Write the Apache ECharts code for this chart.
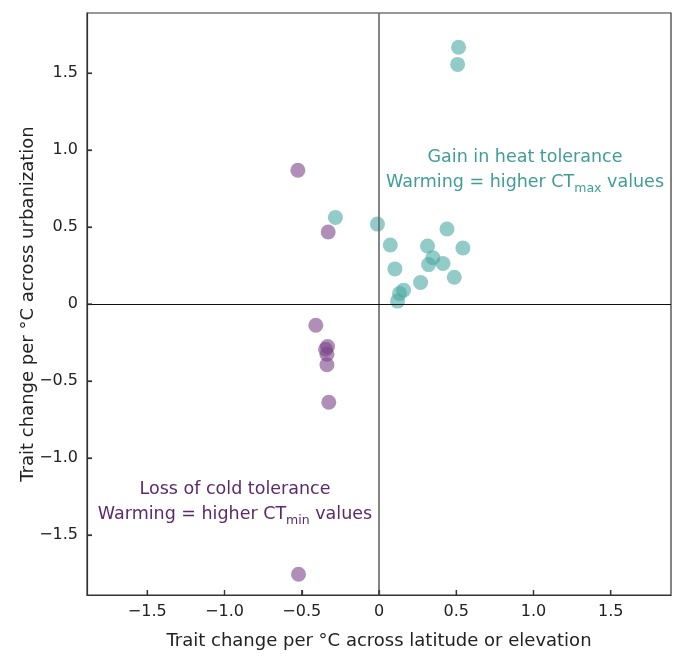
<!DOCTYPE html>
<html>
<head>
<meta charset="utf-8">
<script src="https://cdn.jsdelivr.net/npm/echarts@6/dist/echarts.min.js"></script>
<style>html,body{margin:0;padding:0;background:#fff;}#c{width:674px;height:658px;}</style>
</head>
<body>
<div id="c"></div>
<script>
// Heat tolerance (CTmax) points: [x: trait change per °C across latitude/elevation, y: across urbanization]
var ctmaxX = [0.515, 0.509, -0.01, 0.073, 0.103, 0.44, 0.543, 0.314, 0.349, 0.321, 0.414, 0.487, 0.269, 0.159, 0.133, 0.12, -0.282];
var ctmaxY = [1.668, 1.556, 0.519, 0.383, 0.228, 0.487, 0.364, 0.377, 0.30, 0.256, 0.263, 0.174, 0.14, 0.09, 0.069, 0.019, 0.562];
// Cold tolerance (CTmin) points
var ctminX = [-0.525, -0.329, -0.409, -0.333, -0.346, -0.337, -0.337, -0.325, -0.521];
var ctminY = [0.869, 0.468, -0.138, -0.276, -0.294, -0.326, -0.395, -0.638, -1.755];
var xTicks = [-1.5, -1, -0.5, 0, 0.5, 1, 1.5];
var yTicks = [-1.5, -1, -0.5, 0, 0.5, 1, 1.5];
var xName = 'Trait change per °C across latitude or elevation';
var yName = 'Trait change per °C across urbanization';
var AX_MIN = -1.89, AX_MAX = 1.89;

function zip(a, b) { return a.map(function (v, i) { return [v, b[i]]; }); }
function fmt(v) {
  if (Math.abs(v) < 1e-9) return '0';
  var s = Math.abs(v).toFixed(1);
  return (v < 0 ? '\u2212' : '') + s;
}
var FONT = 'DejaVu Sans';
var TEAL_T = '#3e9e97', PURP_T = '#5b2a6d';
function note(cx, ty, l1, l2a, sub, l2b, col) {
  return {
    type: 'text', x: cx, y: ty, z: 10,
    style: {
      x: 0, y: 0, align: 'center', verticalAlign: 'top',
      text: '{a|' + l1 + '}\n{a|' + l2a + '}{s|' + sub + '}{a|' + l2b + '}',
      rich: {
        a: { fontFamily: FONT, fontSize: 17.5, fill: col, lineHeight: 25, verticalAlign: 'middle' },
        s: { fontFamily: FONT, fontSize: 12.5, fill: col, lineHeight: 25, verticalAlign: 'bottom' }
      }
    }
  };
}
var chart = echarts.init(document.getElementById('c'));
chart.setOption({
  animation: false,
  grid: { left: 87, right: 3, top: 13, bottom: 63, show: true, borderColor: '#333', borderWidth: 1.2, backgroundColor: 'transparent' },
  xAxis: {
    type: 'value', min: AX_MIN, max: AX_MAX,
    name: xName, nameLocation: 'middle', nameGap: 37, nameMoveOverlap: false,
    nameTextStyle: { fontFamily: FONT, fontSize: 18, color: '#222' },
    axisLine: { show: true, onZero: false, lineStyle: { color: '#333', width: 1.2 } },
    splitLine: { show: false },
    axisTick: { show: true, inside: true, length: 5, customValues: xTicks, lineStyle: { color: '#333', width: 1.2 } },
    axisLabel: { customValues: xTicks, formatter: fmt, fontFamily: FONT, fontSize: 16, color: '#222', margin: 9 }
  },
  yAxis: {
    type: 'value', min: AX_MIN, max: AX_MAX,
    name: yName, nameLocation: 'middle', nameGap: 50, nameMoveOverlap: false,
    nameTextStyle: { fontFamily: FONT, fontSize: 18, color: '#222' },
    axisLine: { show: true, onZero: false, lineStyle: { color: '#333', width: 1.2 } },
    splitLine: { show: false },
    axisTick: { show: true, inside: true, length: 5, customValues: yTicks, lineStyle: { color: '#333', width: 1.2 } },
    axisLabel: { customValues: yTicks, formatter: fmt, fontFamily: FONT, fontSize: 16, color: '#222', margin: 9 }
  },
  series: [
    {
      type: 'scatter', data: zip(ctmaxX, ctmaxY), symbolSize: 15,
      itemStyle: { color: '#4aa9a1', opacity: 0.6 },
      markLine: {
        silent: true, symbol: 'none', label: { show: false },
        data: [
          { xAxis: 0, lineStyle: { color: '#666', width: 1.6, type: 'solid' } },
          { yAxis: 0, lineStyle: { color: '#111', width: 1.2, type: 'solid' } }
        ]
      },
      z: 3
    },
    {
      type: 'scatter', data: zip(ctminX, ctminY), symbolSize: 15,
      itemStyle: { color: '#7a4589', opacity: 0.6 },
      z: 3
    }
  ]
});
// tick marks placed through the chart's own scales
var bottomPx = chart.convertToPixel({ yAxisIndex: 0 }, AX_MIN);
var leftPx = chart.convertToPixel({ xAxisIndex: 0 }, AX_MIN);
var graphics = [
  note(525, 145, 'Gain in heat tolerance', 'Warming = higher CT', 'max', ' values', TEAL_T),
  note(235, 477, 'Loss of cold tolerance', 'Warming = higher CT', 'min', ' values', PURP_T)
];
xTicks.forEach(function (v) {
  var p = chart.convertToPixel({ xAxisIndex: 0 }, v);
  graphics.push({ type: 'line', silent: true, z: 5, shape: { x1: p, y1: bottomPx, x2: p, y2: bottomPx - 5 }, style: { stroke: '#333', lineWidth: 1.2 } });
});
yTicks.forEach(function (v) {
  var p = chart.convertToPixel({ yAxisIndex: 0 }, v);
  graphics.push({ type: 'line', silent: true, z: 5, shape: { x1: leftPx, y1: p, x2: leftPx + 5, y2: p }, style: { stroke: '#333', lineWidth: 1.2 } });
});
chart.setOption({ graphic: graphics });
</script>
</body>
</html>
